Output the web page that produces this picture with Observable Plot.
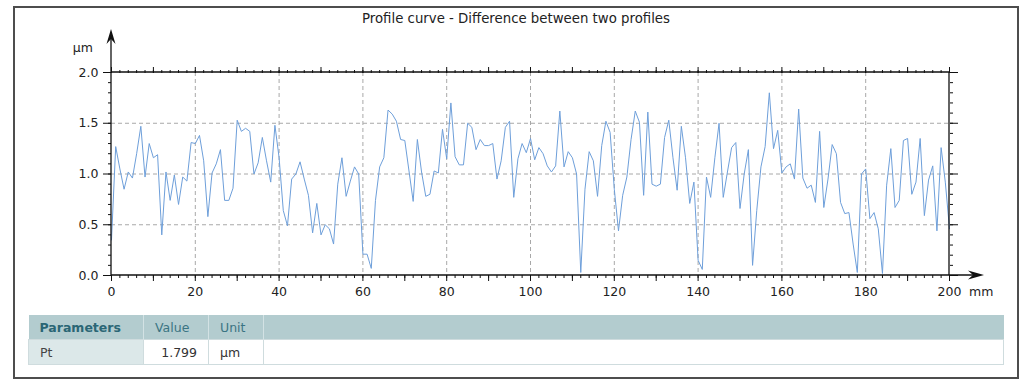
<!DOCTYPE html>
<html>
<head>
<meta charset="utf-8">
<script src="https://cdn.jsdelivr.net/npm/d3@7"></script>
<script src="https://cdn.jsdelivr.net/npm/@observablehq/plot@0.6"></script>
<style>
  body { margin: 0; background: #fff; font-family: "DejaVu Sans", sans-serif; }
  #root { position: relative; width: 1024px; height: 385px; overflow: hidden; }
  #frame { position: absolute; left: 13px; top: 6px; width: 1002px; height: 369px; border: 2px solid #4d4d4d; }
  #title { position: absolute; left: 0; width: 1032px; top: 11px; text-align: center; font-size: 13.3px; color: #222; }
  #chart { position: absolute; left: 0; top: 0; }
  #params { position: absolute; left: 28px; top: 315px; width: 975px; border-collapse: collapse; font-size: 12.5px; table-layout: fixed; }
  #params th, #params td { height: 24px; padding: 0 11px; white-space: nowrap; }
  #params th { background: #b3cccf; color: #3b7483; font-weight: normal; text-align: left; border-left: 1px solid #d3e2e4; }
  #params th.first { font-weight: bold; color: #2a6675; border-left: none; }
  #params td { background: #fff; color: #333; border: 1px solid #cfdcde; }
  #params td.name { background: #dce8e9; color: #444; }
  #params td.num { text-align: right; }
</style>
</head>
<body>
<div id="root">
  <div id="frame"></div>
  <div id="title"></div>
  <div id="chart"></div>
  <table id="params"></table>
</div>
<script>
// ---- data ----
const title = "Profile curve - Difference between two profiles";
const stepMm = 1; // sampling step along the profile, mm
const deviation = [
  0.35, 1.27, 1.05, 0.85, 1.02, 0.96, 1.20, 1.47, 0.97, 1.30,
  1.16, 1.19, 0.40, 1.02, 0.74, 0.99, 0.70, 0.97, 0.93, 1.31,
  1.30, 1.38, 1.13, 0.58, 1.01, 1.10, 1.24, 0.74, 0.74, 0.86,
  1.53, 1.42, 1.45, 1.42, 1.00, 1.11, 1.36, 1.13, 0.92, 1.48,
  1.16, 0.64, 0.49, 0.95, 1.00, 1.12, 0.95, 0.79, 0.42, 0.71,
  0.40, 0.50, 0.46, 0.31, 0.90, 1.16, 0.78, 0.93, 1.07, 1.00,
  0.21, 0.21, 0.07, 0.74, 1.07, 1.16, 1.63, 1.59, 1.52, 1.34,
  1.33, 1.03, 0.73, 1.34, 1.02, 0.78, 0.80, 1.03, 1.01, 1.44,
  1.15, 1.70, 1.17, 1.09, 1.09, 1.50, 1.46, 1.24, 1.34, 1.28,
  1.28, 1.30, 0.95, 1.13, 1.46, 1.52, 0.77, 1.15, 1.30, 1.21,
  1.35, 1.14, 1.26, 1.20, 1.08, 1.02, 1.08, 1.62, 1.07, 1.22,
  1.16, 1.00, 0.03, 0.85, 1.22, 1.13, 0.78, 1.28, 1.52, 1.41,
  0.85, 0.44, 0.79, 0.97, 1.34, 1.62, 1.51, 0.79, 1.61, 0.90,
  0.88, 0.90, 1.36, 1.53, 1.16, 0.84, 1.47, 1.16, 0.71, 0.92,
  0.15, 0.06, 0.97, 0.77, 1.16, 1.50, 0.77, 1.02, 1.26, 1.31,
  0.66, 1.00, 1.24, 0.10, 0.64, 1.07, 1.27, 1.80, 1.25, 1.43,
  1.01, 1.07, 1.10, 0.95, 1.64, 0.96, 0.86, 0.89, 0.72, 1.42,
  0.67, 0.95, 1.29, 1.20, 0.72, 0.61, 0.62, 0.31, 0.03, 1.00,
  1.05, 0.56, 0.62, 0.46, 0.02, 0.89, 1.25, 0.67, 0.74, 1.33,
  1.35, 0.80, 0.92, 1.35, 0.59, 0.94, 1.08, 0.44, 1.26, 0.92,
  0.46
];
const xDomain = [0, 200];
const yDomain = [0, 2];
const xLabelTicks = [0, 20, 40, 60, 80, 100, 120, 140, 160, 180, 200];
const xGridTicks = [20, 40, 60, 80, 100, 120, 140, 160, 180];
const xMidTicks = [0, 10, 20, 30, 40, 50, 60, 70, 80, 90, 100, 110, 120, 130, 140, 150, 160, 170, 180, 190, 200];
const xMinorTicks = d3.range(0, 201, 2);
const yLabelTicks = [0, 0.5, 1.0, 1.5, 2.0];
const yGridTicks = [0.5, 1.0, 1.5];
const yMinorTicks = d3.range(0, 2.001, 0.1).map(v => +v.toFixed(1));
const yUnit = "µm";
const xUnit = "mm";
const paramNames = ["Pt"];
const paramValues = ["1.799"];
const paramUnits = ["µm"];
const tableHeaders = ["Parameters", "Value", "Unit", ""];

// ---- page ----
document.getElementById("title").textContent = title;

const data = deviation.map((v, i) => ({ mm: i * stepMm, um: v }));
const ink = "#111";
const font = "DejaVu Sans";

const arrows = (index, scales) => {
  const x = scales.x, y = scales.y;
  const x0 = x(xDomain[0]), x1 = x(xDomain[1]);
  const y0 = y(yDomain[0]), y1 = y(yDomain[1]);
  const g = d3.create("svg:g");
  // top and right frame lines
  g.append("path").attr("d", `M${x0},${y1}H${x1}V${y0}`)
    .attr("fill", "none").attr("stroke", ink).attr("stroke-width", 1.3);
  // left axis with arrow
  const yTip = y1 - 43;
  g.append("line").attr("x1", x0).attr("x2", x0).attr("y1", y0).attr("y2", yTip + 6)
    .attr("stroke", ink).attr("stroke-width", 1.3);
  g.append("path").attr("d", `M${x0},${yTip}L${x0 - 4.5},${yTip + 15}L${x0},${yTip + 10}L${x0 + 4.5},${yTip + 15}Z`)
    .attr("fill", ink);
  // bottom axis with arrow
  const xTip = x1 + 35;
  g.append("line").attr("x1", x0).attr("x2", xTip - 6).attr("y1", y0).attr("y2", y0)
    .attr("stroke", ink).attr("stroke-width", 1.3);
  g.append("path").attr("d", `M${xTip},${y0}L${xTip - 16},${y0 - 4.5}L${xTip - 11},${y0}L${xTip - 16},${y0 + 4.5}Z`)
    .attr("fill", ink);
  // unit labels
  g.append("text").attr("x", x0 - 18).attr("y", y1 - 20).attr("text-anchor", "end")
    .attr("font-size", 12.5).attr("font-family", font).attr("fill", "#222").text(yUnit);
  g.append("text").attr("x", x1 + 20).attr("y", y0 + 12).attr("dy", "0.71em").attr("text-anchor", "start")
    .attr("font-size", 12.5).attr("font-family", font).attr("fill", "#222").text(xUnit);
  return g.node();
};

const noText = () => "";
const chart = Plot.plot({
  width: 1024,
  height: 305,
  marginLeft: 111,
  marginRight: 75,
  marginTop: 72,
  marginBottom: 30,
  x: { domain: xDomain },
  y: { domain: yDomain },
  style: { fontFamily: font, fontSize: "12.5px", color: "#222", background: "transparent", overflow: "visible" },
  marks: [
    Plot.gridX(xGridTicks, { stroke: "#a8a8a8", strokeOpacity: 1, strokeWidth: 1, strokeDasharray: "4,3" }),
    Plot.gridY(yGridTicks, { stroke: "#a8a8a8", strokeOpacity: 1, strokeWidth: 1, strokeDasharray: "4,3" }),
    Plot.line(data, { x: "mm", y: "um", stroke: "#6e9fda", strokeWidth: 1 }),
    // bottom ticks
    Plot.axisX(xMinorTicks, { anchor: "bottom", tickSize: 3, tickFormat: noText, label: null, stroke: ink }),
    Plot.axisX(xMidTicks, { anchor: "bottom", tickSize: 6, tickFormat: noText, label: null, stroke: ink }),
    Plot.axisX(xLabelTicks, { anchor: "bottom", tickSize: 0, tickPadding: 12, fontSize: 12.5, label: null, fill: "#222" }),
    // top ticks
    Plot.axisX(xMinorTicks, { anchor: "top", tickSize: 3, tickFormat: noText, label: null, stroke: ink }),
    Plot.axisX(xMidTicks, { anchor: "top", tickSize: 6, tickFormat: noText, label: null, stroke: ink }),
    // left ticks
    Plot.axisY(yMinorTicks, { anchor: "left", tickSize: 3, tickFormat: noText, label: null, stroke: ink }),
    Plot.axisY(yLabelTicks, { anchor: "left", tickSize: 8, tickPadding: 5, fontSize: 12.5, label: null, stroke: ink, fill: "#222", tickFormat: d => d.toFixed(1) }),
    // right ticks
    Plot.axisY(yMinorTicks, { anchor: "right", tickSize: 3, tickFormat: noText, label: null, stroke: ink }),
    Plot.axisY(yLabelTicks, { anchor: "right", tickSize: 8, tickFormat: noText, label: null, stroke: ink }),
    arrows
  ]
});
document.getElementById("chart").appendChild(chart);

// ---- parameter table ----
const table = d3.select("#params");
const colgroup = table.append("colgroup");
[115, 65, 55, 740].forEach(w => colgroup.append("col").style("width", w + "px"));
const head = table.append("tr");
tableHeaders.forEach((h, i) => head.append("th").attr("class", i === 0 ? "first" : null).text(h));
paramNames.forEach((n, i) => {
  const tr = table.append("tr");
  tr.append("td").attr("class", "name").text(n);
  tr.append("td").attr("class", "num").text(paramValues[i]);
  tr.append("td").text(paramUnits[i]);
  tr.append("td").text("");
});
</script>
</body>
</html>
